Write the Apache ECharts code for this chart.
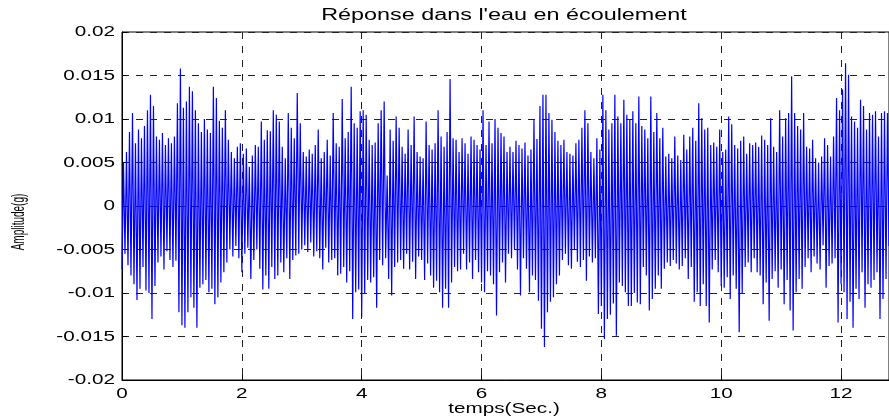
<!DOCTYPE html>
<html>
<head>
<meta charset="utf-8">
<script src="https://cdn.jsdelivr.net/npm/echarts@6/dist/echarts.min.js"></script>
<style>
  html, body { margin: 0; padding: 0; background: #fff; }
  #chart { width: 889px; height: 419px; }
</style>
</head>
<body>
<div id="chart"></div>
<script>
// sampling step of the record (s)
var dt = 0.025;
// acceleration response (g)
var amplitude = [
  -0.0073,0.0050,-0.0055,0.0062,-0.0068,0.0085,-0.0080,0.0107,-0.0090,0.0072,-0.0108,0.0088,-0.0095,0.0078,-0.0070,0.0092,-0.0097,0.0110,-0.0100,0.0128,
  -0.0130,0.0115,-0.0092,0.0080,-0.0065,0.0076,-0.0058,0.0084,-0.0073,0.0070,-0.0052,0.0078,-0.0062,0.0072,-0.0070,0.0080,-0.0063,0.0118,-0.0122,0.0158,
  -0.0137,0.0113,-0.0140,0.0120,-0.0122,0.0137,-0.0105,0.0132,-0.0117,0.0110,-0.0140,0.0095,-0.0094,0.0085,-0.0090,0.0100,-0.0085,0.0088,-0.0099,0.0084,
  -0.0095,0.0137,-0.0113,0.0124,-0.0105,0.0098,-0.0088,0.0090,-0.0076,0.0110,-0.0065,0.0076,-0.0050,0.0062,-0.0058,0.0055,-0.0046,0.0068,-0.0060,0.0072,
  -0.0076,0.0060,-0.0055,0.0066,-0.0048,0.0045,-0.0084,0.0058,-0.0062,0.0070,-0.0050,0.0068,-0.0072,0.0097,-0.0096,0.0076,-0.0080,0.0087,-0.0095,0.0086,
  -0.0070,0.0110,-0.0084,0.0105,-0.0080,0.0097,-0.0065,0.0068,-0.0076,0.0055,-0.0060,0.0107,-0.0084,0.0090,-0.0062,0.0078,-0.0057,0.0130,-0.0055,0.0095,
  -0.0050,0.0062,-0.0045,0.0057,-0.0053,0.0065,-0.0042,0.0060,-0.0058,0.0070,-0.0052,0.0088,-0.0060,0.0055,-0.0073,0.0062,-0.0048,0.0076,-0.0065,0.0058,
  -0.0062,0.0107,-0.0060,0.0072,-0.0080,0.0068,-0.0078,0.0123,-0.0070,0.0078,-0.0088,0.0085,-0.0075,0.0137,-0.0130,0.0095,-0.0099,0.0090,-0.0096,0.0109,
  -0.0128,0.0110,-0.0100,0.0105,-0.0085,0.0076,-0.0088,0.0070,-0.0082,0.0073,-0.0117,0.0095,-0.0062,0.0110,-0.0068,0.0120,-0.0060,0.0035,-0.0084,0.0088,
  -0.0103,0.0075,-0.0070,0.0103,-0.0065,0.0090,-0.0062,0.0068,-0.0072,0.0060,-0.0055,0.0088,-0.0073,0.0070,-0.0064,0.0103,-0.0084,0.0062,-0.0058,0.0057,
  -0.0062,0.0055,-0.0085,0.0097,-0.0066,0.0070,-0.0080,0.0065,-0.0094,0.0072,-0.0086,0.0110,-0.0099,0.0080,-0.0117,0.0068,-0.0095,0.0085,-0.0117,0.0146,
  -0.0088,0.0078,-0.0070,0.0076,-0.0075,0.0062,-0.0073,0.0078,-0.0055,0.0072,-0.0073,0.0060,-0.0065,0.0080,-0.0084,0.0076,-0.0062,0.0070,-0.0076,0.0065,
  -0.0088,0.0110,-0.0099,0.0070,-0.0075,0.0097,-0.0080,0.0072,-0.0090,0.0100,-0.0126,0.0090,-0.0076,0.0084,-0.0065,0.0080,-0.0088,0.0062,-0.0055,0.0068,
  -0.0060,0.0062,-0.0050,0.0075,-0.0073,0.0070,-0.0103,0.0066,-0.0060,0.0073,-0.0072,0.0058,-0.0099,0.0065,-0.0080,0.0099,-0.0085,0.0077,-0.0109,0.0115,
  -0.0141,0.0128,-0.0162,0.0128,-0.0122,0.0107,-0.0110,0.0099,-0.0105,0.0085,-0.0090,0.0075,-0.0080,0.0070,-0.0062,0.0076,-0.0055,0.0062,-0.0068,0.0060,
  -0.0072,0.0058,-0.0050,0.0072,-0.0064,0.0076,-0.0070,0.0090,-0.0062,0.0110,-0.0086,0.0095,-0.0058,0.0062,-0.0065,0.0055,-0.0060,0.0078,-0.0124,0.0065,
  -0.0115,0.0128,-0.0153,0.0110,-0.0130,0.0088,-0.0125,0.0095,-0.0112,0.0128,-0.0149,0.0103,-0.0088,0.0095,-0.0092,0.0122,-0.0099,0.0105,-0.0115,0.0099,
  -0.0115,0.0109,-0.0100,0.0095,-0.0111,0.0126,-0.0113,0.0092,-0.0070,0.0088,-0.0080,0.0078,-0.0120,0.0126,-0.0107,0.0085,-0.0095,0.0107,-0.0080,0.0078,
  -0.0095,0.0090,-0.0072,0.0057,-0.0065,0.0060,-0.0069,0.0055,-0.0062,0.0080,-0.0066,0.0058,-0.0073,0.0053,-0.0069,0.0082,-0.0060,0.0065,-0.0084,0.0080,
  -0.0070,0.0090,-0.0110,0.0075,-0.0099,0.0118,-0.0115,0.0101,-0.0090,0.0088,-0.0115,0.0090,-0.0134,0.0070,-0.0073,0.0073,-0.0062,0.0068,-0.0076,0.0088,
  -0.0092,0.0062,-0.0094,0.0065,-0.0082,0.0103,-0.0107,0.0094,-0.0080,0.0070,-0.0095,0.0066,-0.0145,0.0075,-0.0100,0.0080,-0.0070,0.0060,-0.0065,0.0072,
  -0.0076,0.0070,-0.0060,0.0073,-0.0076,0.0068,-0.0080,0.0081,-0.0113,0.0076,-0.0088,0.0070,-0.0132,0.0101,-0.0084,0.0068,-0.0075,0.0062,-0.0094,0.0110,
  -0.0073,0.0080,-0.0113,0.0101,-0.0085,0.0107,-0.0120,0.0149,-0.0143,0.0107,-0.0099,0.0092,-0.0084,0.0088,-0.0095,0.0107,-0.0070,0.0068,-0.0060,0.0066,
  -0.0076,0.0076,-0.0058,0.0055,-0.0066,0.0050,-0.0073,0.0057,-0.0045,0.0078,-0.0094,0.0070,-0.0069,0.0057,-0.0066,0.0080,-0.0060,0.0124,-0.0134,0.0110,
  -0.0090,0.0134,-0.0099,0.0164,-0.0130,0.0151,-0.0110,0.0103,-0.0140,0.0097,-0.0095,0.0090,-0.0107,0.0122,-0.0076,0.0115,-0.0117,0.0088,-0.0090,0.0107,
  -0.0094,0.0105,-0.0085,0.0109,-0.0076,0.0080,-0.0130,0.0107,-0.0107,0.0109,-0.0084,0.0107,-0.0046
];
var xTicks = [0, 2, 4, 6, 8, 10, 12];
var xTickLabels = ["0", "2", "4", "6", "8", "10", "12"];
var yTicks = [0.02, 0.015, 0.01, 0.005, 0, -0.005, -0.01, -0.015, -0.02];
var yTickLabels = ["0.02", "0.015", "0.01", "0.005", "0", "-0.005", "-0.01", "-0.015", "-0.02"];
var titleText = "Réponse dans l'eau en écoulement";
var xName = "temps(Sec.)";
var yName = "Amplitude(g)";

// the source figure is stretched sideways, so the texts are too
var stretch = 1.38;
var font = '15px "Liberation Sans"';

var series = amplitude.map(function (v, i) {
  return [+(i * dt).toFixed(3), v];
});

var dashed = {
  show: true,
  lineStyle: { color: "#222", width: 1, type: [7, 7] }
};

function text(str, x, y, align, vAlign, f, sx) {
  return {
    type: "text",
    x: x,
    y: y,
    scaleX: sx || stretch,
    silent: true,
    style: { text: str, fill: "#000", font: f || font, align: align, verticalAlign: vAlign }
  };
}

var myChart = echarts.init(document.getElementById("chart"));
var option = {
  animation: false,
  backgroundColor: "#fff",
  grid: {
    left: 122,
    right: -1,
    top: 32,
    bottom: 39,
    show: true,
    borderColor: "#000",
    borderWidth: 1
  },
  xAxis: {
    type: "value",
    min: 0,
    max: 12.8,
    interval: 2,
    axisLine: { show: true, onZero: false, lineStyle: { color: "#000", width: 1 } },
    axisTick: { show: true, inside: true, length: 5, lineStyle: { color: "#000" } },
    axisLabel: { show: false },
    splitLine: dashed
  },
  yAxis: {
    type: "value",
    min: -0.02,
    max: 0.02,
    interval: 0.005,
    axisLine: { show: true, onZero: false, lineStyle: { color: "#000", width: 1 } },
    axisTick: { show: true, inside: true, length: 5, lineStyle: { color: "#000" } },
    axisLabel: { show: false },
    splitLine: dashed
  },
  series: [
    {
      type: "line",
      data: series,
      showSymbol: false,
      lineStyle: { color: "#0000ff", width: 1.2 },
      itemStyle: { color: "#0000ff" }
    }
  ]
};
myChart.setOption(option);

// tick labels and names placed from the axis scales
var graphics = [];
xTicks.forEach(function (v, i) {
  var p = myChart.convertToPixel({ gridIndex: 0 }, [v, -0.02]);
  graphics.push(text(xTickLabels[i], p[0], p[1] + 6, "center", "top"));
});
yTicks.forEach(function (v, i) {
  var p = myChart.convertToPixel({ gridIndex: 0 }, [0, v]);
  graphics.push(text(yTickLabels[i], p[0] - 7, p[1], "right", "middle"));
});
graphics.push(text(titleText, 504, 16, "center", "middle", '16px "Liberation Sans"', 1.46));
graphics.push(text(xName, 504, 409, "center", "middle"));
graphics.push({
  type: "text",
  x: 19,
  y: 222,
  rotation: Math.PI / 2,
  scaleY: 1.8,
  silent: true,
  style: { text: yName, fill: "#000", font: '10px "Liberation Sans"', align: "center", verticalAlign: "middle" }
});
myChart.setOption({ graphic: graphics });
</script>
</body>
</html>
